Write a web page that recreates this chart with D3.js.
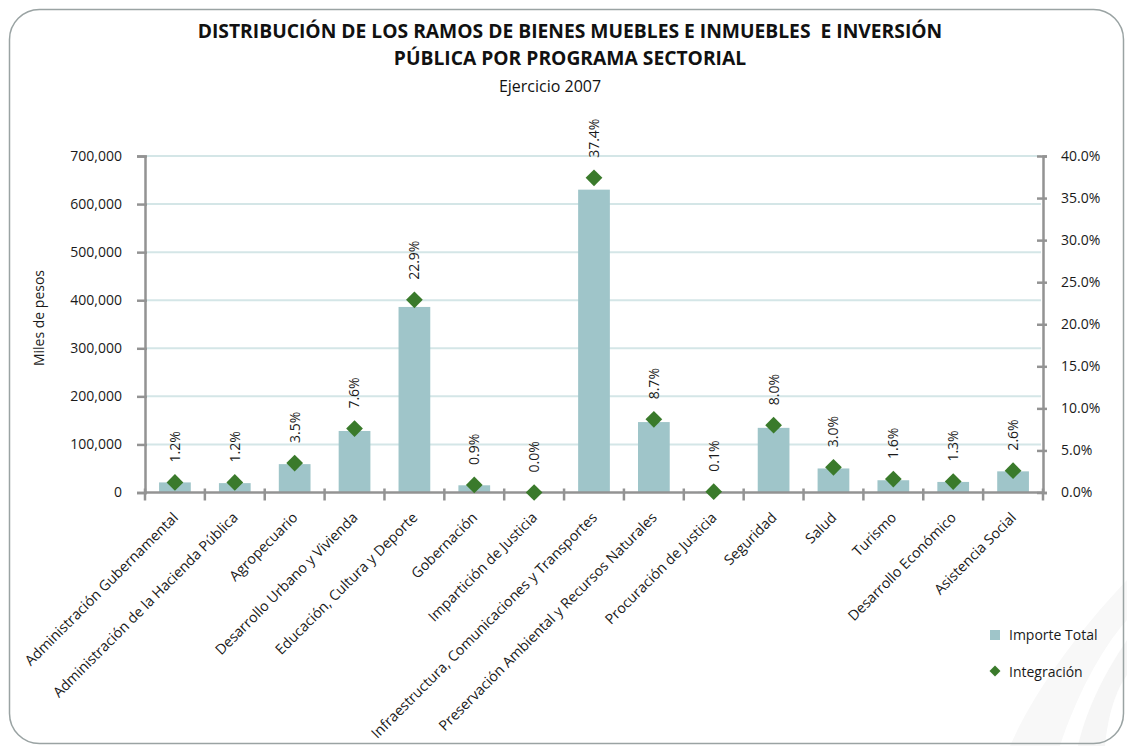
<!DOCTYPE html>
<html><head><meta charset="utf-8">
<script src="https://cdn.jsdelivr.net/npm/d3@7"></script>
<style>
html,body{margin:0;padding:0;background:#fff;}
text{font-family:"Open Sans",sans-serif;}
</style></head>
<body>
<svg id="chart" width="1127" height="746"></svg>
<script>
const categories = [
  "Administración Gubernamental",
  "Administración de la Hacienda Pública",
  "Agropecuario",
  "Desarrollo Urbano y Vivienda",
  "Educación, Cultura y Deporte",
  "Gobernación",
  "Impartición de Justicia",
  "Infraestructura, Comunicaciones y Transportes",
  "Preservación Ambiental y Recursos Naturales",
  "Procuración de Justicia",
  "Seguridad",
  "Salud",
  "Turismo",
  "Desarrollo Económico",
  "Asistencia Social"
];
const importeTotal = [21000, 19500, 59000, 128000, 386000, 15000, 500, 630000, 146500, 1500, 134500, 50000, 25500, 22000, 44000];
const integracion = [1.2, 1.2, 3.5, 7.6, 22.9, 0.9, 0.0, 37.4, 8.7, 0.1, 8.0, 3.0, 1.6, 1.3, 2.6];
const leftTicks = [0, 100000, 200000, 300000, 400000, 500000, 600000, 700000];
const rightTicks = [0, 5, 10, 15, 20, 25, 30, 35, 40];
const titleLines = ["DISTRIBUCIÓN DE LOS RAMOS DE BIENES MUEBLES E INMUEBLES  E INVERSIÓN", "PÚBLICA POR PROGRAMA SECTORIAL"];
const subtitle = "Ejercicio 2007";
const yTitle = "Miles de pesos";
const seriesNames = ["Importe Total", "Integración"];

const svg = d3.select("#chart");
const L = 145, R = 1043, T = 156, B = 492.5;
const barColor = "#9fc5c9", diaColor = "#3a7a2b", axisColor = "#939393", gridColor = "#d4e6e7";

// faint watermark swoosh
const wm = svg.append("g");
wm.append("path").attr("d", "M1127,580 C1070,640 1030,700 1010,746 L1060,746 C1075,700 1100,650 1127,620 Z").attr("fill", "#f8f8f8");
wm.append("path").attr("d", "M1127,640 C1100,680 1085,715 1078,746 L1105,746 C1108,715 1116,690 1127,675 Z").attr("fill", "#f6f6f6");

// border
svg.append("rect").attr("x", 9.5).attr("y", 9.5).attr("width", 1114).attr("height", 734)
  .attr("rx", 30).attr("fill", "none").attr("stroke", "#9aa3a3").attr("stroke-width", 1.5);

const x = d3.scaleBand().domain(categories).range([L, R]).paddingInner(0.47).paddingOuter(0.235);
const y = d3.scaleLinear().domain([0, 700000]).range([B, T]);
const y2 = d3.scaleLinear().domain([0, 40]).range([B, T]);

function fit(sel, target) {
  const w = sel.node().getComputedTextLength();
  const fs = parseFloat(sel.attr("font-size"));
  sel.attr("font-size", fs * target / w);
}

// titles
const t1 = svg.append("text").attr("x", 570).attr("y", 38).attr("text-anchor", "middle")
  .attr("font-size", 18).attr("font-weight", "bold").attr("fill", "#111").style("white-space", "pre").text(titleLines[0]);
fit(t1, 745);
const t2 = svg.append("text").attr("x", 570).attr("y", 65).attr("text-anchor", "middle")
  .attr("font-size", 18).attr("font-weight", "bold").attr("fill", "#111").text(titleLines[1]);
t2.attr("font-size", t1.attr("font-size"));
svg.append("text").attr("x", 550).attr("y", 92).attr("text-anchor", "middle")
  .attr("font-size", 16).attr("fill", "#111").text(subtitle);

// gridlines
svg.append("g").selectAll("line").data(leftTicks.filter(d => d > 0)).join("line")
  .attr("x1", L + 2).attr("x2", R - 2).attr("y1", d => y(d)).attr("y2", d => y(d))
  .attr("stroke", gridColor).attr("stroke-width", 2);

// bars
svg.append("g").selectAll("rect").data(categories).join("rect")
  .attr("x", d => x(d)).attr("width", x.bandwidth())
  .attr("y", (d, i) => y(importeTotal[i])).attr("height", (d, i) => B - y(importeTotal[i]))
  .attr("fill", barColor);

// left axis
const ax = svg.append("g").attr("transform", `translate(${L},0)`)
  .call(d3.axisLeft(y).tickValues(leftTicks).tickFormat(d3.format(",")).tickSize(8).tickPadding(15));
ax.select(".domain").attr("stroke", axisColor).attr("stroke-width", 2.5);
ax.selectAll(".tick line").attr("stroke", axisColor).attr("stroke-width", 2.5).attr("x1", 2).attr("x2", -8);
ax.selectAll(".tick text").attr("font-size", 14).attr("fill", "#1a1a1a").attr("font-family", "Open Sans");

// right axis
const ax2 = svg.append("g").attr("transform", `translate(${R},0)`)
  .call(d3.axisRight(y2).tickValues(rightTicks).tickFormat(d => d3.format(".1f")(d) + "%").tickSize(4).tickPadding(14));
ax2.select(".domain").attr("stroke", axisColor).attr("stroke-width", 2.5);
ax2.selectAll(".tick line").attr("stroke", axisColor).attr("stroke-width", 2.5).attr("x1", -6).attr("x2", 4);
ax2.selectAll(".tick text").attr("font-size", 14).attr("fill", "#1a1a1a").attr("font-family", "Open Sans");

// bottom axis
const bounds = categories.map(c => x(c) + x.bandwidth() / 2 - x.step() / 2);
bounds.push(bounds[bounds.length - 1] + x.step());
svg.append("line").attr("x1", L).attr("x2", R).attr("y1", B).attr("y2", B)
  .attr("stroke", axisColor).attr("stroke-width", 2.5);
svg.append("g").selectAll("line").data(bounds).join("line")
  .attr("x1", d => d).attr("x2", d => d).attr("y1", B - 4).attr("y2", B + 8)
  .attr("stroke", axisColor).attr("stroke-width", 2.5);

svg.append("g").selectAll("text").data(categories).join("text")
  .attr("transform", d => `translate(${x(d) + x.bandwidth() / 2 + 4},${B + 26}) rotate(-45)`)
  .attr("text-anchor", "end").attr("font-size", 14.3).attr("fill", "#1a1a1a").text(d => d);

// diamonds
const dia = d3.symbol().type(d3.symbolSquare).size(140);
svg.append("g").selectAll("path").data(categories).join("path")
  .attr("d", dia)
  .attr("transform", (d, i) => `translate(${x(d) + x.bandwidth() / 2},${y2(integracion[i])}) rotate(45)`)
  .attr("fill", diaColor);

// percentage labels
svg.append("g").selectAll("text").data(categories).join("text")
  .attr("transform", (d, i) => `translate(${x(d) + x.bandwidth() / 2},${y2(integracion[i]) - 20}) rotate(-90)`)
  .attr("dy", "0.35em").attr("font-size", 14).attr("fill", "#1a1a1a")
  .text((d, i) => d3.format(".1f")(integracion[i]) + "%");

// y title
svg.append("text").attr("transform", "translate(39,318) rotate(-90)").attr("text-anchor", "middle")
  .attr("dy", "0.35em").attr("font-size", 14).attr("fill", "#1a1a1a").text(yTitle);

// legend
const lg = svg.append("g");
lg.append("rect").attr("x", 990).attr("y", 630).attr("width", 10).attr("height", 10).attr("fill", barColor);
lg.append("text").attr("x", 1009).attr("y", 640).attr("font-size", 14).attr("fill", "#1a1a1a").text(seriesNames[0]);
lg.append("path").attr("d", d3.symbol().type(d3.symbolSquare).size(60))
  .attr("transform", "translate(995,671) rotate(45)").attr("fill", diaColor);
lg.append("text").attr("x", 1009).attr("y", 677).attr("font-size", 14).attr("fill", "#1a1a1a").text(seriesNames[1]);
</script>
</body></html>
